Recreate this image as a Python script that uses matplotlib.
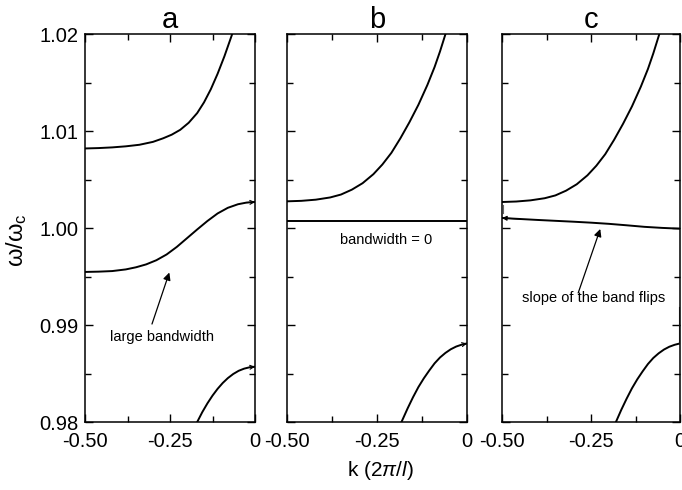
import matplotlib
matplotlib.use('Agg')
import matplotlib.pyplot as plt
from matplotlib.ticker import MultipleLocator, FixedLocator, FixedFormatter

plt.rcParams['font.family'] = 'Liberation Sans'
plt.rcParams['mathtext.fontset'] = 'custom'
plt.rcParams['mathtext.rm'] = 'Liberation Sans'
plt.rcParams['mathtext.it'] = 'Liberation Sans:italic'

# panel a: three bands
a_up_k = [-0.5, -0.46, -0.42, -0.38, -0.34, -0.30, -0.27, -0.245, -0.22, -0.195,
          -0.17, -0.15, -0.13, -0.11, -0.09, -0.075, -0.064]
a_up_w = [1.0082, 1.00824, 1.00831, 1.00842, 1.00858, 1.00888, 1.00925, 1.00962,
          1.01012, 1.01085, 1.01185, 1.01295, 1.0143, 1.0159, 1.0177, 1.0192, 1.0203]
a_mid_k = [-0.5, -0.46, -0.42, -0.38, -0.35, -0.32, -0.29, -0.26, -0.23, -0.20,
           -0.17, -0.14, -0.11, -0.08, -0.05, -0.025, 0.0]
a_mid_w = [0.99547, 0.9955, 0.99556, 0.99573, 0.99595, 0.99625, 0.99668, 0.99727,
           0.99805, 0.99895, 0.99985, 1.00072, 1.0015, 1.00208, 1.00245, 1.00262, 1.00268]
a_low_k = [-0.17, -0.155, -0.14, -0.125, -0.11, -0.095, -0.08, -0.064, -0.048,
           -0.032, -0.016, 0.0]
a_low_w = [0.9800, 0.98102, 0.98192, 0.98272, 0.98342, 0.98402, 0.98452, 0.98495,
           0.98528, 0.9855, 0.98564, 0.9857]

# panel b
b_up_k = [-0.5, -0.46, -0.42, -0.38, -0.35, -0.32, -0.29, -0.26, -0.235, -0.21,
          -0.185, -0.16, -0.135, -0.11, -0.09, -0.075, -0.058]
b_up_w = [1.00275, 1.0028, 1.00292, 1.00315, 1.00345, 1.00395, 1.00462, 1.00555,
          1.00655, 1.00775, 1.00925, 1.0109, 1.0127, 1.01475, 1.0166, 1.0182, 1.0202]
b_flat_k = [-0.5, 0.0]
b_flat_w = [1.00068, 1.00068]
b_low_k = [-0.182, -0.165, -0.15, -0.135, -0.12, -0.105, -0.09, -0.075, -0.06,
           -0.045, -0.03, -0.015, 0.0]
b_low_w = [0.9800, 0.9814, 0.98255, 0.9836, 0.9845, 0.9853, 0.98605, 0.98665,
           0.98712, 0.9875, 0.98778, 0.98797, 0.9881]

# panel c
c_up_k = b_up_k
c_up_w = [1.00268, 1.00273, 1.00285, 1.00307, 1.00336, 1.00385, 1.00451, 1.00543,
          1.00642, 1.00761, 1.0091, 1.01074, 1.01253, 1.01457, 1.0164, 1.018, 1.0200]
c_flat_k = [-0.5, -0.45, -0.4, -0.35, -0.3, -0.25, -0.2, -0.15, -0.1, -0.05, 0.0]
c_flat_w = [1.00103, 1.00093, 1.00083, 1.00074, 1.00065, 1.00055, 1.00043,
            1.00028, 1.00012, 1.00001, 0.99993]
c_low_k = [-0.18, -0.165, -0.15, -0.135, -0.12, -0.105, -0.09, -0.075, -0.06,
           -0.045, -0.03, -0.015, 0.0]
c_low_w = [0.9800, 0.98125, 0.9824, 0.98347, 0.9844, 0.98522, 0.98598, 0.9866,
           0.98708, 0.98747, 0.98776, 0.98796, 0.9881]

xticks = [-0.5, -0.25, 0.0]
xticklabels = ['-0.50', '-0.25', '0']
yticks = [0.98, 0.99, 1.00, 1.01, 1.02]
yticklabels = ['0.98', '0.99', '1.00', '1.01', '1.02']

fig = plt.figure(figsize=(6.82, 4.9), dpi=100)
W, H = 682, 490
boxes = [(85, 170), (287, 180), (502, 178)]
axes = []
for i, (x0, w) in enumerate(boxes):
    ax = fig.add_axes([x0 / W, 1 - 422 / H, w / W, 388 / H])
    ax.set_xlim(-0.5, 0)
    ax.set_ylim(0.98, 1.02)
    ax.xaxis.set_major_locator(FixedLocator(xticks))
    ax.xaxis.set_major_formatter(FixedFormatter(xticklabels))
    ax.xaxis.set_minor_locator(MultipleLocator(0.125))
    ax.yaxis.set_major_locator(FixedLocator(yticks))
    ax.yaxis.set_minor_locator(MultipleLocator(0.005))
    if i == 0:
        ax.yaxis.set_major_formatter(FixedFormatter(yticklabels))
    else:
        ax.set_yticklabels([])
    ax.tick_params(which='both', direction='in', top=True, right=True,
                   labelsize=14.5, width=1.0)
    ax.tick_params(axis='x', pad=7)
    ax.tick_params(axis='y', pad=5)
    ax.tick_params(which='major', length=6)
    ax.tick_params(which='minor', length=4)
    for s in ax.spines.values():
        s.set_linewidth(1.1)
    ax.set_title('abc'[i], fontsize=21, pad=4)
    axes.append(ax)

lw = 1.4
ax_a, ax_b, ax_c = axes
ax_a.plot(a_up_k, a_up_w, color='k', lw=lw)
ax_a.plot(a_mid_k, a_mid_w, color='k', lw=lw)
ax_a.plot(a_low_k, a_low_w, color='k', lw=lw)

ax_b.plot(b_up_k, b_up_w, color='k', lw=lw)
ax_b.plot(b_flat_k, b_flat_w, color='k', lw=lw)
ax_b.plot(b_low_k, b_low_w, color='k', lw=lw)

ax_c.plot(c_up_k, c_up_w, color='k', lw=lw)
ax_c.plot(c_flat_k, c_flat_w, color='k', lw=lw)
ax_c.plot(c_low_k, c_low_w, color='k', lw=lw)
# small stray strokes near the band edges in c
ax_c.plot([-0.002, -0.002], [0.9881, 0.9919], color='0.3', lw=0.8, clip_on=False)
ax_c.plot([-0.498, -0.498], [1.0015, 1.0024], color='0.4', lw=0.8)

# little end arrows on some bands
head = dict(arrowstyle='->', color='k', lw=0.8, mutation_scale=7, shrinkA=0, shrinkB=0)
ax_a.annotate('', xy=(a_mid_k[-1], a_mid_w[-1]), xytext=(a_mid_k[-2], a_mid_w[-2]),
              arrowprops=head)
ax_a.annotate('', xy=(a_low_k[-1], a_low_w[-1]), xytext=(a_low_k[-2], a_low_w[-2]),
              arrowprops=head)
ax_b.annotate('', xy=(b_low_k[-1], b_low_w[-1]), xytext=(b_low_k[-2], b_low_w[-2]),
              arrowprops=head)
ax_c.annotate('', xy=(c_flat_k[0], c_flat_w[0]), xytext=(c_flat_k[1], c_flat_w[1]),
              arrowprops=dict(arrowstyle='-|>', color='k', lw=0.8, mutation_scale=7,
                              shrinkA=0, shrinkB=0))

arrow = dict(arrowstyle='-|>', color='k', lw=0.9, mutation_scale=11, shrinkA=0, shrinkB=0)
ax_a.annotate('', xy=(-0.252, 0.99541), xytext=(-0.303, 0.9901), arrowprops=arrow)
ax_a.text(-0.274, 0.98876, 'large bandwidth', fontsize=10.5, ha='center', va='center')
ax_b.text(-0.225, 0.9988, 'bandwidth = 0', fontsize=10.5, ha='center', va='center')
ax_c.annotate('', xy=(-0.224, 0.9999), xytext=(-0.286, 0.9933), arrowprops=arrow)
ax_c.text(-0.2416, 0.99278, 'slope of the band flips', fontsize=10.5, ha='center', va='center')

fig.text(380 / W, 1 - 470 / H, r'k (2$\pi$/$l$)', fontsize=15, ha='center', va='center')
fig.text(17 / W, 1 - 240 / H, r'ω/ω$_\mathrm{c}$', fontsize=17, rotation=90,
         ha='center', va='center')

fig.savefig('out.png', dpi=100)
